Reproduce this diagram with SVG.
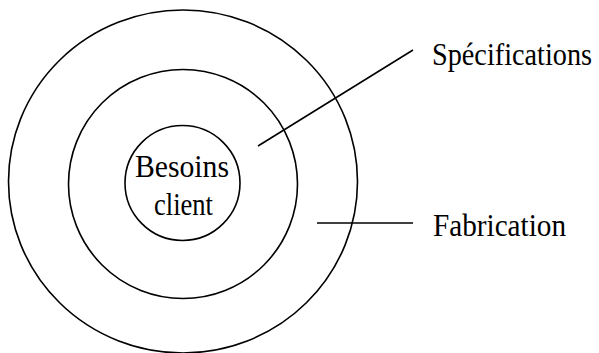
<svg xmlns="http://www.w3.org/2000/svg" width="599" height="353" viewBox="0 0 599 353">
<style>
.ring{fill:none;stroke:#000;stroke-width:1.6}
.conn{stroke:#000;stroke-width:1.6;fill:none}
.t{font-family:'Liberation Serif','Times New Roman',serif;font-size:32px;fill:#000}
</style>
<rect width="599" height="353" fill="#fff"/>
<g id="fabrication-ring"><ellipse class="ring" cx="183" cy="181.5" rx="174.5" ry="171.5"/></g>
<g id="specifications-ring"><circle class="ring" cx="183" cy="184" r="114.5"/></g>
<g id="besoins-client"><circle class="ring" cx="182.5" cy="183" r="57.5"/>
<text class="t" font-family="Liberation Serif, serif" x="135" y="177" textLength="94" lengthAdjust="spacingAndGlyphs">Besoins</text>
<text class="t" font-family="Liberation Serif, serif" x="154" y="215" textLength="59" lengthAdjust="spacingAndGlyphs">client</text></g>
<g id="connectors">
<line class="conn" x1="258" y1="146" x2="413" y2="50"/>
<line class="conn" x1="317" y1="223" x2="413" y2="223"/>
</g>
<g id="label-specifications"><text class="t" font-family="Liberation Serif, serif" x="432" y="65" textLength="160" lengthAdjust="spacingAndGlyphs">Spécifications</text></g>
<g id="label-fabrication"><text class="t" font-family="Liberation Serif, serif" x="433" y="236" textLength="133" lengthAdjust="spacingAndGlyphs">Fabrication</text></g>
</svg>
